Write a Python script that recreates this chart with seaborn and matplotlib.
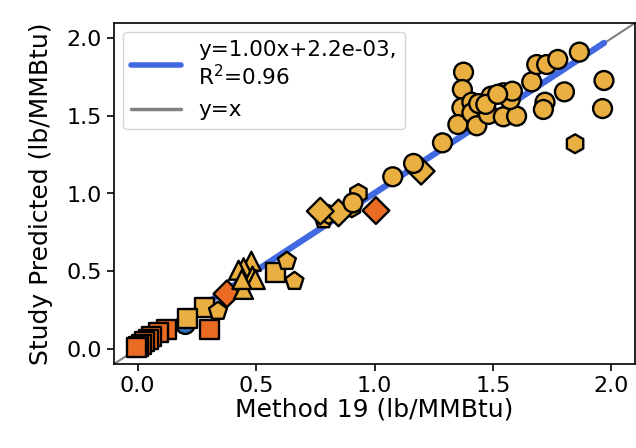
import numpy as np
import pandas as pd
import matplotlib
matplotlib.use("Agg")
import matplotlib.pyplot as plt
from matplotlib.lines import Line2D
import seaborn as sns

# ---- data ----
circle_x = [1.376, 1.371, 1.369, 1.352, 1.411, 1.411, 1.432, 1.460, 1.492, 1.481,
            1.544, 1.600, 1.544, 1.573, 1.582, 1.664, 1.685, 1.727, 1.774, 1.865,
            1.802, 1.720, 1.713, 1.969, 1.963, 1.287, 1.077, 1.165, 0.909, 1.440,
            1.470, 1.520]
circle_y = [1.783, 1.671, 1.553, 1.445, 1.589, 1.520, 1.437, 1.563, 1.628, 1.510,
            1.495, 1.499, 1.650, 1.606, 1.660, 1.720, 1.832, 1.832, 1.865, 1.912,
            1.656, 1.589, 1.542, 1.729, 1.548, 1.327, 1.108, 1.194, 0.940, 1.580,
            1.575, 1.640]
hex_x = [1.847, 0.932, 0.904, 0.806]
hex_y = [1.321, 1.000, 0.908, 0.865]
diamond_x = [1.197, 0.848, 0.771]
diamond_y = [1.144, 0.875, 0.886]
diamond_o_x = [1.006, 0.377]
diamond_o_y = [0.890, 0.353]
tri_x = [0.480, 0.447, 0.426, 0.485, 0.497, 0.447, 0.440]
tri_y = [0.563, 0.521, 0.505, 0.467, 0.445, 0.381, 0.445]
square_x = [0.581, 0.281, 0.211]
square_y = [0.488, 0.263, 0.192]
pent_x = [0.630, 0.662, 0.339, 0.785]
pent_y = [0.563, 0.434, 0.241, 0.832]
square_o_x = [0.302, 0.120, 0.089, 0.060, 0.045, 0.030, 0.015, 0.005, -0.005]
square_o_y = [0.123, 0.123, 0.101, 0.079, 0.060, 0.045, 0.025, 0.012, 0.005]
pent_o_x = [0.020, 0.040]
pent_o_y = [0.020, 0.035]
blue_x = [0.201]
blue_y = [0.155]

slope, intercept, r2 = 1.00, 2.2e-3, 0.96

groups = [
    ("circle", "blue", blue_x, blue_y),
    ("pentagon", "orange", pent_o_x, pent_o_y),
    ("square", "orange", square_o_x, square_o_y),
    ("square", "yellow", square_x, square_y),
    ("pentagon", "yellow", pent_x, pent_y),
    ("diamond", "orange", diamond_o_x, diamond_o_y),
    ("triangle", "yellow", tri_x, tri_y),
    ("hexagon", "yellow", hex_x, hex_y),
    ("diamond", "yellow", diamond_x, diamond_y),
    ("circle", "yellow", circle_x, circle_y),
]
rows = []
for shape, col, xs, ys in groups:
    for x, y in zip(xs, ys):
        rows.append({"x": x, "y": y, "shape": shape, "color": col})
df = pd.DataFrame(rows)

sns.set_style("ticks", {"axes.edgecolor": "black", "text.color": "black",
                        "xtick.color": "black", "ytick.color": "black",
                        "axes.labelcolor": "black"})
plt.rcParams["font.family"] = ["DejaVu Sans"]

fig = plt.figure(figsize=(6.36, 4.48), dpi=100)
ax = fig.add_axes([114 / 636, 1 - 364 / 448, (635 - 114) / 636, (364 - 23) / 448])

lim = (-0.1, 2.1)
ax.plot(lim, lim, color="gray", lw=1.5, zorder=1)
xr = np.array([df["x"].min(), df["x"].max()])
ax.plot(xr, slope * xr + intercept, color="royalblue", lw=4.5, zorder=2)

palette = {"yellow": "#E9AF41", "orange": "#EA6B24", "blue": "#2E72C0"}
markers = {"circle": "o", "hexagon": "h", "diamond": "D", "triangle": "^",
           "square": "s", "pentagon": "p"}
sns.scatterplot(data=df, x="x", y="y", hue="color", style="shape",
                palette=palette, markers=markers, s=185, edgecolor="black",
                linewidth=1.7, legend=False, ax=ax, zorder=3)

ax.set_xlim(lim)
ax.set_ylim(lim)
ax.set_xticks([0.0, 0.5, 1.0, 1.5, 2.0])
ax.set_yticks([0.0, 0.5, 1.0, 1.5, 2.0])
ax.tick_params(labelsize=16, width=1.2, length=5)
for s in ax.spines.values():
    s.set_linewidth(1.2)
    s.set_visible(True)
ax.set_xlabel("Method 19 (lb/MMBtu)", fontsize=18, labelpad=1)
ax.set_ylabel("Study Predicted (lb/MMBtu)", fontsize=18, labelpad=10)

handles = [Line2D([], [], color="royalblue", lw=4),
           Line2D([], [], color="gray", lw=2.5)]
labels = [f"y={slope:.2f}x+{intercept:.1e},\nR$^2$={r2:.2f}", "y=x"]
ax.legend(handles, labels, loc="upper left", fontsize=15.5, handlelength=2.3,
          frameon=True, borderaxespad=0.4, labelspacing=0.5)

fig.savefig("out.png", dpi=100)
